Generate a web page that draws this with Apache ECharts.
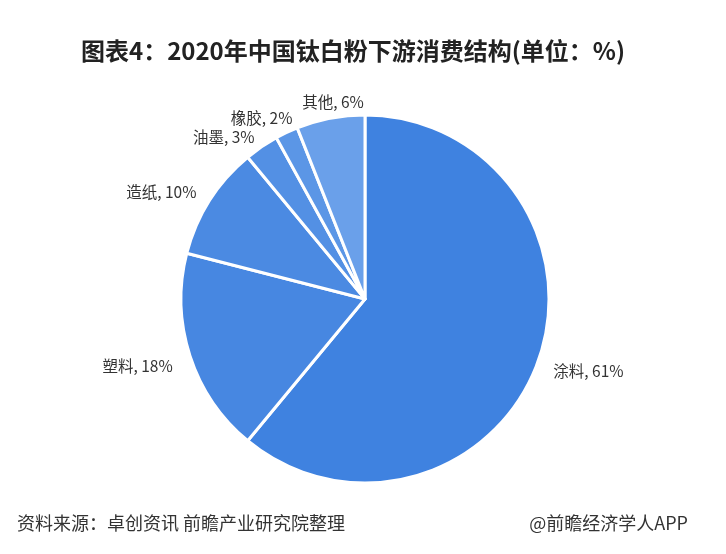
<!DOCTYPE html>
<html><head><meta charset="utf-8">
<script src="https://cdn.jsdelivr.net/npm/echarts@6/dist/echarts.min.js"></script>
<style>html,body{margin:0;padding:0;background:#fff}#c{width:726px;height:554px}</style>
</head><body><div id="c"></div>
<script>
const categories = ['涂料', '塑料', '造纸', '油墨', '橡胶', '其他'];
const values = [61, 18, 10, 3, 2, 6];
const colors = ['#3f82e0', '#4787e1', '#4b8ae2', '#5390e4', '#5b96e6', '#6aa0ea'];
// label nudges (style only)
const labelNudge = [[-3, 5], [1, 6], [-1, -1], [8, -2], [18, -4], [41, -2]];

const chart = echarts.init(document.getElementById('c'));
const font = '"Noto Sans CJK SC", "Noto Sans", sans-serif';
chart.setOption({
  backgroundColor: '#fff',
  title: [{
    text: '图表4：2020年中国钛白粉下游消费结构(单位：%)',
    left: 348, top: 34, textAlign: 'center',
    textStyle: { fontFamily: font, fontSize: 24, fontWeight: 'bold', color: '#222' }
  }],
  graphic: [
    { type: 'text', left: 17, top: 514, style: { text: '资料来源：卓创资讯 前瞻产业研究院整理', font: '18px "Noto Sans CJK SC"', fill: '#333' } },
    { type: 'text', right: 38, top: 514, style: { text: '@前瞻经济学人APP', font: '18px "Noto Sans CJK SC"', fill: '#333' } }
  ],
  series: [{
    type: 'pie',
    center: [365, 299],
    radius: 184,
    startAngle: 90,
    clockwise: true,
    animation: false,
    data: categories.map((c, i) => ({ name: c, value: values[i], itemStyle: { color: colors[i] } })),
    itemStyle: { borderColor: '#fff', borderWidth: 3 },
    label: {
      show: true, position: 'outside',
      formatter: p => p.name + ', ' + p.value + '%',
      fontFamily: font, fontSize: 15.5, color: '#333'
    },
    labelLine: { show: false, length: 14, length2: 0 },
    labelLayout: p => ({ dx: labelNudge[p.dataIndex][0], dy: labelNudge[p.dataIndex][1] }),
    emphasis: { disabled: true }
  }]
});
</script></body></html>
